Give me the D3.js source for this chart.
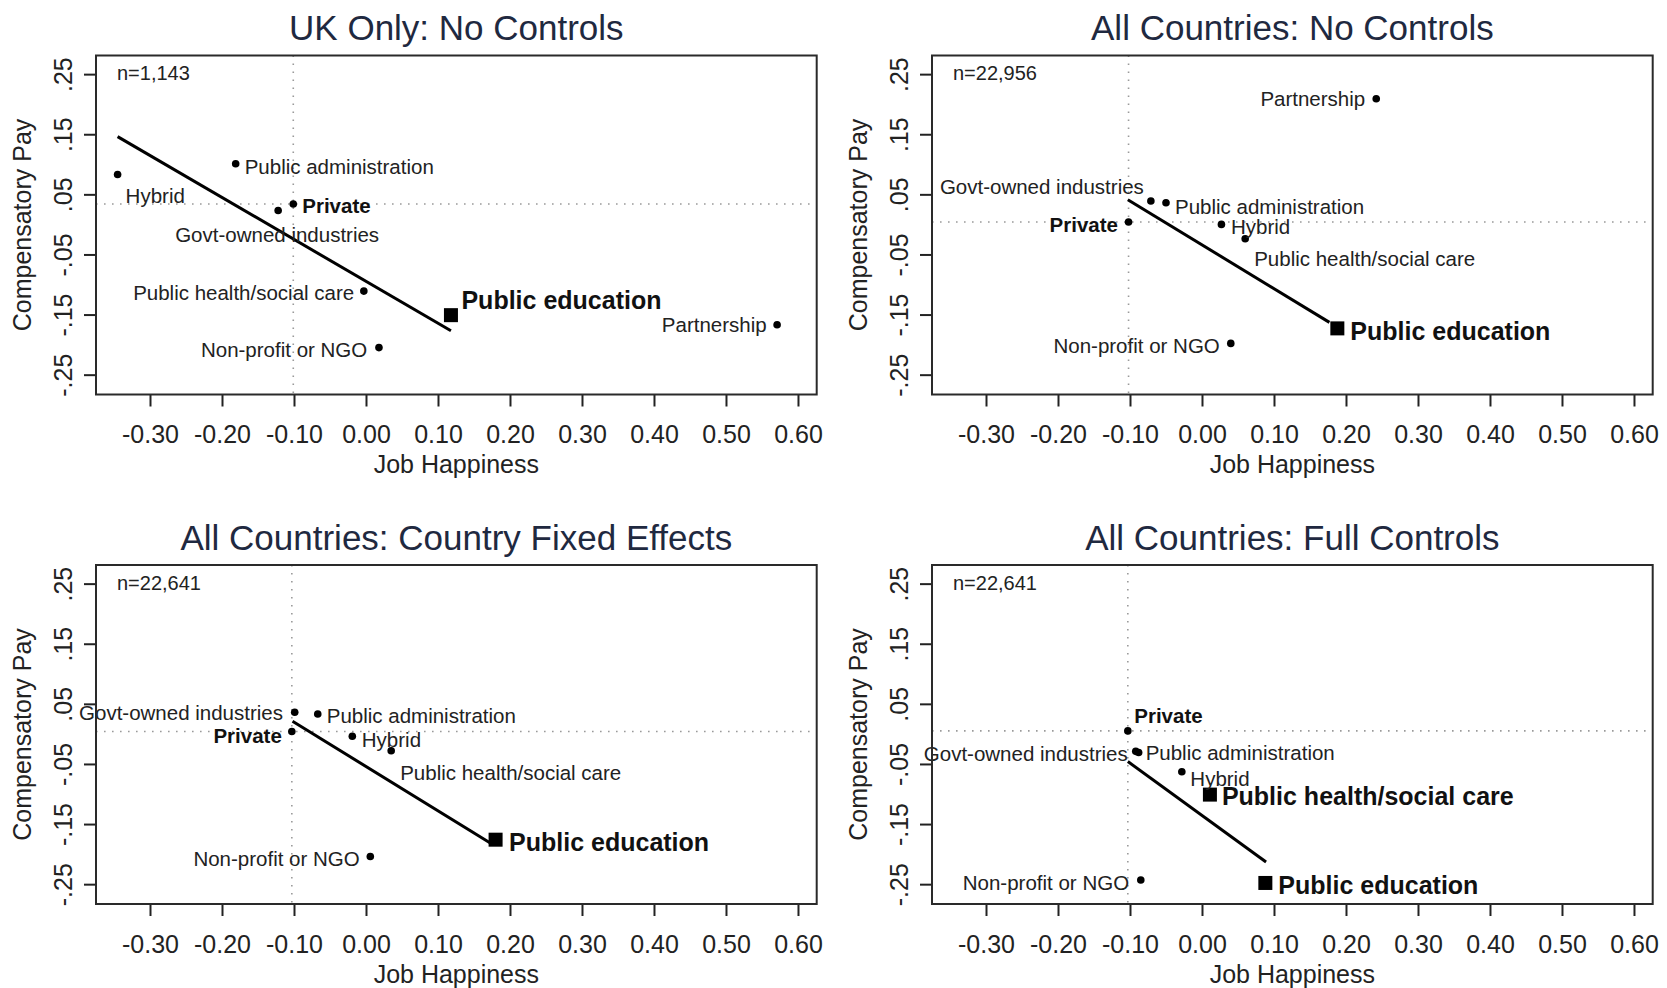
<!DOCTYPE html>
<html>
<head>
<meta charset="utf-8">
<script src="https://cdn.jsdelivr.net/npm/d3@7"></script>
<style>
  body { margin: 0; background: #fff; }
  svg { display: block; }
  text { font-family: "Liberation Sans", Arial, Helvetica, sans-serif; }
</style>
</head>
<body>
<svg id="chart" width="1667" height="988"></svg>
<script>
// ---- Data ----------------------------------------------------------------
const sectors = ["Private", "Public administration", "Public education",
  "Public health/social care", "Govt-owned industries", "Non-profit or NGO",
  "Partnership", "Hybrid"];
const referenceSector = "Private";

const panelTitles = ["UK Only: No Controls", "All Countries: No Controls",
  "All Countries: Country Fixed Effects", "All Countries: Full Controls"];
const sampleSizes = ["n=1,143", "n=22,956", "n=22,641", "n=22,641"];

const xTicks = [-0.30, -0.20, -0.10, 0.00, 0.10, 0.20, 0.30, 0.40, 0.50, 0.60];
const yTicks = [-0.25, -0.15, -0.05, 0.05, 0.15, 0.25];
const yTickLabels = ["-.25", "-.15", "-.05", ".05", ".15", ".25"];
const xAxisTitle = "Job Happiness";
const yAxisTitle = "Compensatory Pay";

// Sector estimates, in the order of `sectors` (null = not estimated)
const ukHappiness = [-0.101, -0.181, 0.118, -0.003, -0.122, 0.018, 0.571, -0.345];
const ukPay       = [0.034, 0.101, -0.151, -0.111, 0.023, -0.205, -0.167, 0.083];
const ukSignificant = [false, false, true, false, false, false, false, false];
const ukFitX = [-0.345, 0.118];
const ukFitY = [0.146, -0.177];

const allHappiness = [-0.102, -0.050, 0.188, 0.060, -0.071, 0.040, 0.242, 0.027];
const allPay       = [0.004, 0.036, -0.173, -0.024, 0.039, -0.198, 0.209, 0.000];
const allSignificant = [false, false, true, false, false, false, false, false];
const allFitX = [-0.103, 0.177];
const allFitY = [0.041, -0.163];

const feHappiness = [-0.103, -0.067, 0.180, 0.035, -0.099, 0.006, null, -0.019];
const fePay       = [0.004, 0.033, -0.176, -0.028, 0.036, -0.204, null, -0.004];
const feSignificant = [false, false, true, false, false, false, false, false];
const feFitX = [-0.102, 0.176];
const feFitY = [0.021, -0.184];

const fullHappiness = [-0.103, -0.088, 0.088, 0.011, -0.092, -0.085, null, -0.028];
const fullPay       = [0.005, -0.031, -0.248, -0.101, -0.029, -0.243, null, -0.063];
const fullSignificant = [false, false, true, true, false, false, false, false];
const fullFitX = [-0.103, 0.089];
const fullFitY = [-0.046, -0.213];

// ---- Label placement (anchor, x offset, y offset of text centre, px) -----
const ukLabelPos = [["start", 9, 2], ["start", 9, 3], ["start", 10.5, -15], ["end", -9.6, 2],
  ["middle", -1, 24], ["end", -11.7, 2], ["end", -10.4, 0], ["start", 8, 21]];
const allLabelPos = [["end", -10.6, 3], ["start", 9, 4], ["start", 13, 3], ["start", 9, 20],
  ["end", -7, -14], ["end", -11, 2], ["end", -11, 0], ["start", 9.5, 2]];
const feLabelPos = [["end", -10, 4], ["start", 9, 2], ["start", 13.5, 2], ["start", 9, 22],
  ["end", -11.7, 0], ["end", -10.6, 2], null, ["start", 9.5, 3]];
const fullLabelPos = [["start", 6.4, -15], ["start", 7, 0], ["start", 13, 2], ["start", 12, 1],
  ["end", -8, 2], ["end", -11.7, 3], null, ["start", 8.5, 6.5]];

const panels = [
  { title: panelTitles[0], n: sampleSizes[0], hx: ukHappiness, py: ukPay, sig: ukSignificant,
    fitX: ukFitX, fitY: ukFitY, pos: ukLabelPos, ox: 0, oy: 0 },
  { title: panelTitles[1], n: sampleSizes[1], hx: allHappiness, py: allPay, sig: allSignificant,
    fitX: allFitX, fitY: allFitY, pos: allLabelPos, ox: 836, oy: 0 },
  { title: panelTitles[2], n: sampleSizes[2], hx: feHappiness, py: fePay, sig: feSignificant,
    fitX: feFitX, fitY: feFitY, pos: feLabelPos, ox: 0, oy: 509.5 },
  { title: panelTitles[3], n: sampleSizes[3], hx: fullHappiness, py: fullPay, sig: fullSignificant,
    fitX: fullFitX, fitY: fullFitY, pos: fullLabelPos, ox: 836, oy: 509.5 }
];

// ---- Drawing -------------------------------------------------------------
const svg = d3.select("#chart");
svg.append("rect").attr("width", 1667).attr("height", 988).attr("fill", "#fff");

const box = { left: 96, right: 816.7, top: 55.5, bottom: 394.5 };
const ink = "#222";
const titleInk = "#1f2940";

panels.forEach(p => {
  const g = svg.append("g").attr("transform", `translate(${p.ox},${p.oy})`);

  const x = d3.scaleLinear().domain([-0.375, 0.626]).range([box.left, box.right]);
  const y = d3.scaleLinear().domain([-0.283, 0.281]).range([box.bottom, box.top]);

  // title
  g.append("text")
    .attr("x", (box.left + box.right) / 2).attr("y", 40)
    .attr("text-anchor", "middle")
    .attr("font-size", 35).attr("fill", titleInk)
    .text(p.title);

  // x axis
  const xAxis = g.append("g")
    .attr("transform", `translate(0,${box.bottom})`)
    .call(d3.axisBottom(x).tickValues(xTicks).tickSize(12).tickFormat(v => v.toFixed(2)));
  xAxis.select(".domain").remove();
  xAxis.selectAll(".tick line").attr("stroke", ink).attr("stroke-width", 2);
  xAxis.selectAll(".tick text")
    .attr("y", 48.5).attr("dy", 0)
    .attr("font-size", 25).attr("fill", ink)
    .attr("font-family", "Liberation Sans, Arial, sans-serif");

  // y axis (labels parallel to the axis)
  const yAxis = g.append("g")
    .attr("transform", `translate(${box.left},0)`)
    .call(d3.axisLeft(y).tickValues(yTicks).tickSize(12)
      .tickFormat(v => yTickLabels[yTicks.indexOf(v)]));
  yAxis.select(".domain").remove();
  yAxis.selectAll(".tick line").attr("stroke", ink).attr("stroke-width", 2);
  yAxis.selectAll(".tick text")
    .attr("transform", "rotate(-90)")
    .attr("x", 0).attr("y", -24).attr("dy", 0)
    .attr("text-anchor", "middle")
    .attr("font-size", 25).attr("fill", ink)
    .attr("font-family", "Liberation Sans, Arial, sans-serif");

  // axis titles
  g.append("text")
    .attr("x", (box.left + box.right) / 2).attr("y", 473)
    .attr("text-anchor", "middle").attr("font-size", 25).attr("fill", ink)
    .text(xAxisTitle);
  g.append("text")
    .attr("transform", `translate(31,${(box.top + box.bottom) / 2}) rotate(-90)`)
    .attr("text-anchor", "middle").attr("font-size", 25).attr("fill", ink)
    .text(yAxisTitle);

  // reference lines through the reference sector
  const ri = sectors.indexOf(referenceSector);
  g.append("line")
    .attr("x1", box.left).attr("x2", box.right)
    .attr("y1", y(p.py[ri])).attr("y2", y(p.py[ri]))
    .attr("stroke", "#9a9a9a").attr("stroke-width", 1.6).attr("stroke-dasharray", "1.6,6.4");
  g.append("line")
    .attr("x1", x(p.hx[ri])).attr("x2", x(p.hx[ri]))
    .attr("y1", box.top).attr("y2", box.bottom)
    .attr("stroke", "#9a9a9a").attr("stroke-width", 1.6).attr("stroke-dasharray", "1.6,6.4");

  // fitted line
  g.append("path")
    .datum(p.fitX.map((v, i) => [v, p.fitY[i]]))
    .attr("d", d3.line().x(d => x(d[0])).y(d => y(d[1])))
    .attr("fill", "none").attr("stroke", "#000").attr("stroke-width", 3);

  // sector points
  const pts = sectors.map((s, i) => ({ s, i, hx: p.hx[i], py: p.py[i], sig: p.sig[i], pos: p.pos[i] }))
    .filter(d => d.hx !== null && d.py !== null);

  g.selectAll("circle.pt").data(pts.filter(d => !d.sig)).join("circle")
    .attr("class", "pt")
    .attr("cx", d => x(d.hx)).attr("cy", d => y(d.py)).attr("r", 3.8)
    .attr("fill", "#000");
  const sq = 14;
  g.selectAll("rect.pt").data(pts.filter(d => d.sig)).join("rect")
    .attr("class", "pt")
    .attr("x", d => x(d.hx) - sq / 2).attr("y", d => y(d.py) - sq / 2)
    .attr("width", sq).attr("height", sq).attr("fill", "#000");

  // sector labels
  g.selectAll("text.lab").data(pts).join("text")
    .attr("class", "lab")
    .attr("x", d => x(d.hx) + d.pos[1])
    .attr("y", d => {
      const fs = d.sig ? 25 : 20.5;
      return y(d.py) + d.pos[2] + fs * 0.36;
    })
    .attr("text-anchor", d => d.pos[0])
    .attr("font-size", d => d.sig ? 25 : 20.5)
    .attr("font-weight", d => (d.sig || d.s === referenceSector) ? "bold" : "normal")
    .attr("fill", d => (d.sig || d.s === referenceSector) ? "#111" : ink)
    .text(d => d.s);

  // sample size
  g.append("text")
    .attr("x", 117).attr("y", 80)
    .attr("font-size", 20).attr("fill", ink)
    .text(p.n);

  // plot frame
  g.append("rect")
    .attr("x", box.left).attr("y", box.top)
    .attr("width", box.right - box.left).attr("height", box.bottom - box.top)
    .attr("fill", "none").attr("stroke", "#2a2a2a").attr("stroke-width", 2);
});
</script>
</body>
</html>
